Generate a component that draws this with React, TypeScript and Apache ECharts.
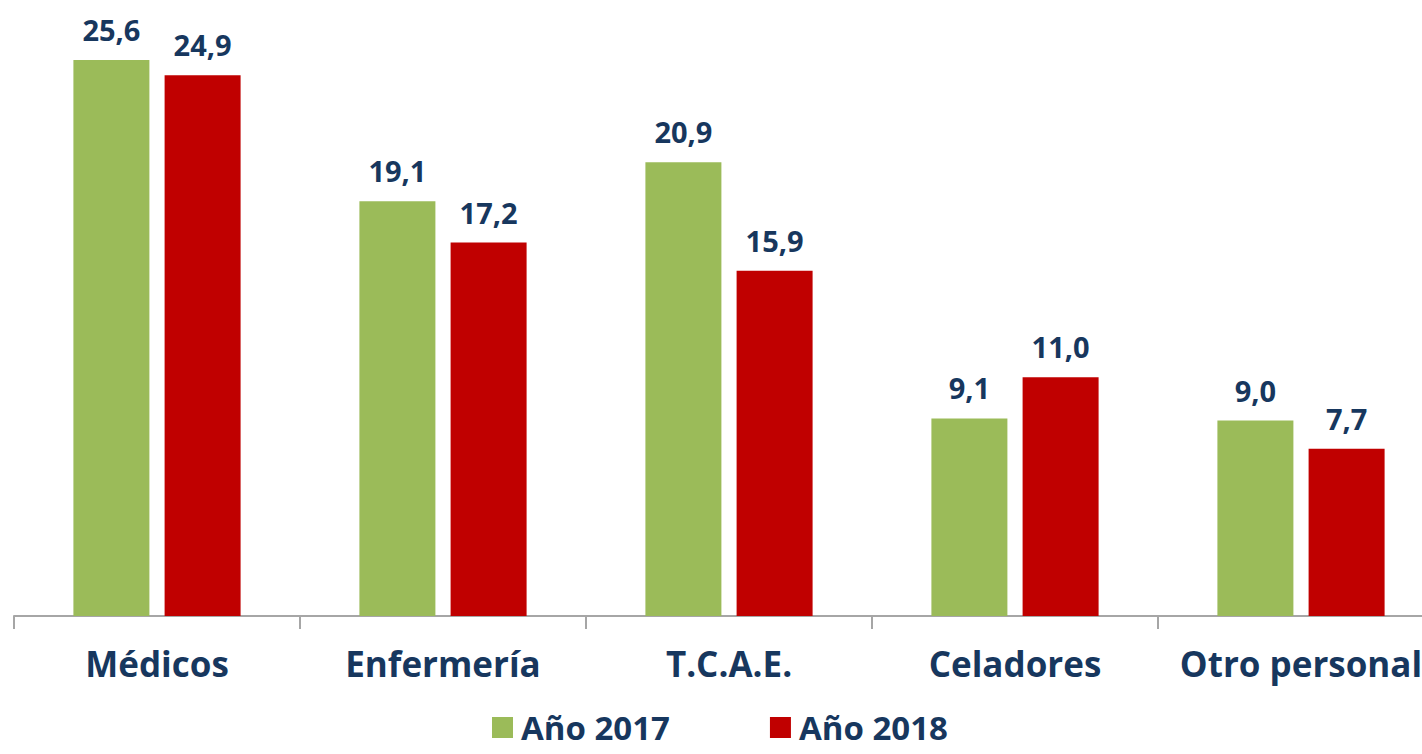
import React, { useEffect, useRef } from "react";
import * as echarts from "echarts";

const categories = ["Médicos", "Enfermería", "T.C.A.E.", "Celadores", "Otro personal"];
const values2017 = [25.6, 19.1, 20.9, 9.1, 9.0];
const values2018 = [24.9, 17.2, 15.9, 11.0, 7.7];
const seriesNames = ["Año 2017", "Año 2018"];

const NAVY = "#17375E";
const FONT = "'Open Sans', 'Noto Sans', sans-serif";

export default function App() {
  const ref = useRef<HTMLDivElement>(null);
  useEffect(() => {
    if (!ref.current) return;
    const chart = echarts.init(ref.current, undefined, { renderer: "svg" });
    const fmt = (p: any) => Number(p.value).toFixed(1).replace(".", ",");
    const label = {
      show: true,
      position: "top",
      distance: 16,
      color: NAVY,
      fontFamily: FONT,
      fontWeight: "bold",
      fontSize: 29,
      formatter: fmt,
    };
    chart.setOption({
      animation: false,
      backgroundColor: "#ffffff",
      grid: { left: 14, top: 8, width: 1430, height: 608, containLabel: false },
      legend: {
        left: 492,
        top: 711,
        itemWidth: 21,
        itemHeight: 21,
        itemGap: 100,
        icon: "rect",
        padding: 0,
        textStyle: {
          color: NAVY,
          fontFamily: FONT,
          fontWeight: "bold",
          fontSize: 33,
          lineHeight: 28,
          padding: [0, 0, 0, 3],
        },
        data: seriesNames,
      },
      xAxis: {
        type: "category",
        data: categories,
        axisLine: { show: true, lineStyle: { color: "#A6A6A6", width: 2 } },
        axisTick: { show: true, length: 13, lineStyle: { color: "#A6A6A6", width: 2 } },
        axisLabel: {
          color: NAVY,
          fontFamily: FONT,
          fontWeight: "bold",
          fontSize: 35,
          lineHeight: 36,
          margin: 29,
          interval: 0,
        },
      },
      yAxis: {
        type: "value",
        min: 0,
        max: 28,
        show: false,
        splitLine: { show: false },
      },
      series: [
        {
          name: seriesNames[0],
          type: "bar",
          data: values2017,
          barWidth: 76,
          barGap: "20%",
          itemStyle: { color: "#9BBB59" },
          label,
        },
        {
          name: seriesNames[1],
          type: "bar",
          data: values2018,
          barWidth: 76,
          barGap: "20%",
          itemStyle: { color: "#C00000" },
          label,
        },
      ],
    });
    return () => chart.dispose();
  }, []);
  return (
    <div style={{ position: "absolute", left: 0, top: 0, width: 1422, height: 754, overflow: "hidden" }}>
      <div ref={ref} style={{ position: "absolute", left: 0, top: 0, width: 1450, height: 754 }} />
    </div>
  );
}
